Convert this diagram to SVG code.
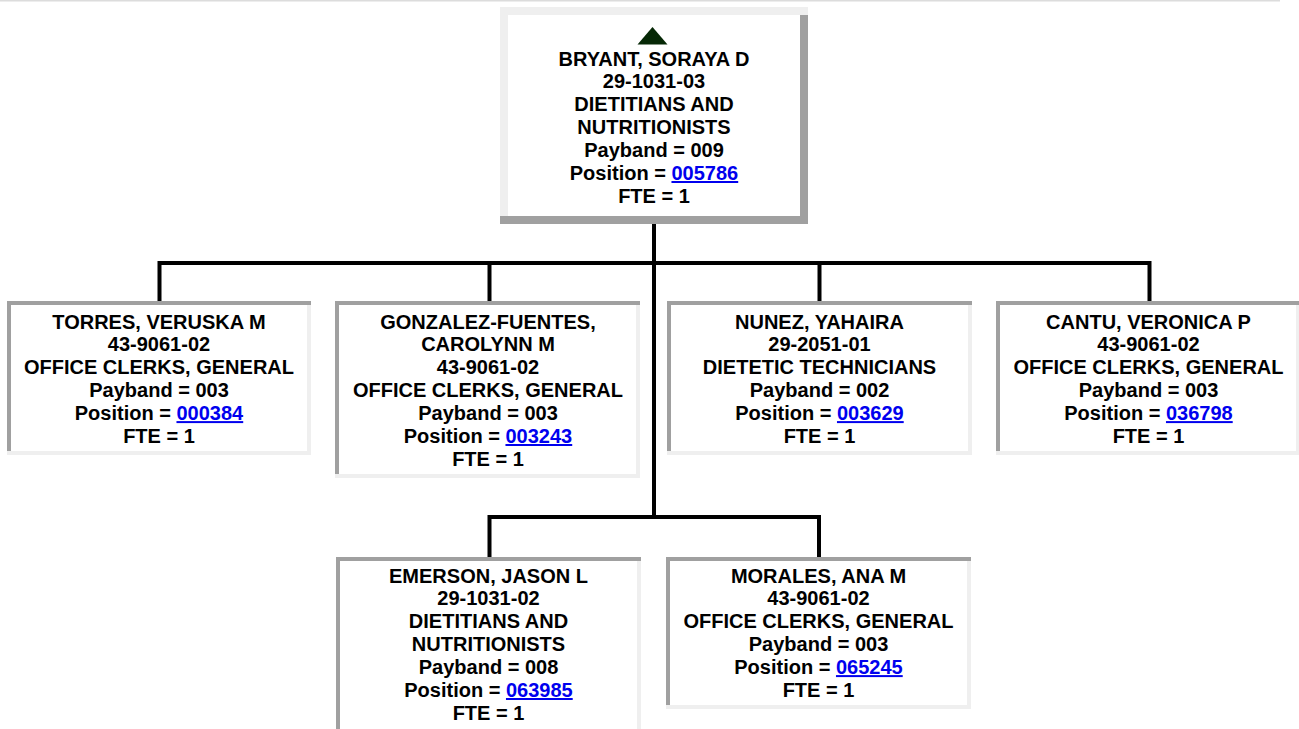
<svg xmlns="http://www.w3.org/2000/svg" width="1299" height="729" viewBox="0 0 1299 729">
<style>
.dk{fill:#a0a0a0}
.lt{fill:#efefef}
.bg{fill:#ffffff}
text{font-family:"Liberation Sans",Arial,sans-serif;font-weight:bold;font-size:20px;fill:#000;text-anchor:middle}
.lnk{fill:#0000ee;text-decoration:underline}
.conn{stroke:#000;stroke-width:4;fill:none}
</style>
<rect width="1299" height="729" fill="#fff"/>
<rect x="0" y="0" width="1280" height="1.5" fill="#dcdcdc"/>

<g id="connectors">
<path class="conn" d="M654 224V517"/>
<path class="conn" d="M159.5 301V263H1149.5V301"/>
<path class="conn" d="M489.5 263V301"/>
<path class="conn" d="M819.5 263V301"/>
<path class="conn" d="M489.5 557V517H819V557"/>
</g>

<g id="node-bryant">
<rect class="lt" x="500" y="7" width="308" height="217"/>
<rect class="dk" x="800" y="15" width="8" height="209"/>
<rect class="dk" x="500" y="216" width="308" height="8"/>
<rect class="bg" x="508" y="15" width="292" height="201"/>
<polygon points="637.5,44.5 652.5,27 667.5,44.5" fill="#062806"/>
<text x="654" y="65.5">BRYANT, SORAYA D</text>
<text x="654" y="88.4">29-1031-03</text>
<text x="654" y="111.3">DIETITIANS AND</text>
<text x="654" y="134.2">NUTRITIONISTS</text>
<text x="654" y="157.1">Payband = 009</text>
<text x="654" y="180">Position = <tspan class="lnk">005786</tspan></text>
<text x="654" y="202.9">FTE = 1</text>
</g>

<g id="node-torres">
<rect class="lt" x="7" y="301" width="304" height="154"/>
<rect class="dk" x="7" y="301" width="304" height="4"/>
<rect class="dk" x="7" y="301" width="4" height="150"/>
<rect class="bg" x="11" y="305" width="296" height="146"/>
<text x="159" y="328.5">TORRES, VERUSKA M</text>
<text x="159" y="351.4">43-9061-02</text>
<text x="159" y="374.3">OFFICE CLERKS, GENERAL</text>
<text x="159" y="397.2">Payband = 003</text>
<text x="159" y="420.1">Position = <tspan class="lnk">000384</tspan></text>
<text x="159" y="443">FTE = 1</text>
</g>

<g id="node-gonzalez">
<rect class="lt" x="335" y="301" width="305" height="177"/>
<rect class="dk" x="335" y="301" width="305" height="4"/>
<rect class="dk" x="335" y="301" width="4" height="173"/>
<rect class="bg" x="339" y="305" width="297" height="169"/>
<text x="488" y="328.5">GONZALEZ-FUENTES,</text>
<text x="488" y="351.4">CAROLYNN M</text>
<text x="488" y="374.3">43-9061-02</text>
<text x="488" y="397.2">OFFICE CLERKS, GENERAL</text>
<text x="488" y="420.1">Payband = 003</text>
<text x="488" y="443">Position = <tspan class="lnk">003243</tspan></text>
<text x="488" y="465.9">FTE = 1</text>
</g>

<g id="node-nunez">
<rect class="lt" x="667" y="301" width="305" height="154"/>
<rect class="dk" x="667" y="301" width="305" height="4"/>
<rect class="dk" x="667" y="301" width="4" height="150"/>
<rect class="bg" x="671" y="305" width="297" height="146"/>
<text x="819.5" y="328.5">NUNEZ, YAHAIRA</text>
<text x="819.5" y="351.4">29-2051-01</text>
<text x="819.5" y="374.3">DIETETIC TECHNICIANS</text>
<text x="819.5" y="397.2">Payband = 002</text>
<text x="819.5" y="420.1">Position = <tspan class="lnk">003629</tspan></text>
<text x="819.5" y="443">FTE = 1</text>
</g>

<g id="node-cantu">
<rect class="lt" x="996" y="301" width="304" height="154"/>
<rect class="dk" x="996" y="301" width="304" height="4"/>
<rect class="dk" x="996" y="301" width="4" height="150"/>
<rect class="bg" x="1000" y="305" width="296" height="146"/>
<text x="1148.5" y="328.5">CANTU, VERONICA P</text>
<text x="1148.5" y="351.4">43-9061-02</text>
<text x="1148.5" y="374.3">OFFICE CLERKS, GENERAL</text>
<text x="1148.5" y="397.2">Payband = 003</text>
<text x="1148.5" y="420.1">Position = <tspan class="lnk">036798</tspan></text>
<text x="1148.5" y="443">FTE = 1</text>
</g>

<g id="node-emerson">
<rect class="lt" x="336" y="557" width="305" height="180"/>
<rect class="dk" x="336" y="557" width="305" height="4"/>
<rect class="dk" x="336" y="557" width="4" height="180"/>
<rect class="bg" x="340" y="561" width="297" height="176"/>
<text x="488.5" y="582.5">EMERSON, JASON L</text>
<text x="488.5" y="605.4">29-1031-02</text>
<text x="488.5" y="628.3">DIETITIANS AND</text>
<text x="488.5" y="651.2">NUTRITIONISTS</text>
<text x="488.5" y="674.1">Payband = 008</text>
<text x="488.5" y="697">Position = <tspan class="lnk">063985</tspan></text>
<text x="488.5" y="719.9">FTE = 1</text>
</g>

<g id="node-morales">
<rect class="lt" x="666" y="557" width="305" height="152"/>
<rect class="dk" x="666" y="557" width="305" height="4"/>
<rect class="dk" x="666" y="557" width="4" height="148"/>
<rect class="bg" x="670" y="561" width="297" height="144"/>
<text x="818.5" y="582.5">MORALES, ANA M</text>
<text x="818.5" y="605.4">43-9061-02</text>
<text x="818.5" y="628.3">OFFICE CLERKS, GENERAL</text>
<text x="818.5" y="651.2">Payband = 003</text>
<text x="818.5" y="674.1">Position = <tspan class="lnk">065245</tspan></text>
<text x="818.5" y="697">FTE = 1</text>
</g>
</svg>
